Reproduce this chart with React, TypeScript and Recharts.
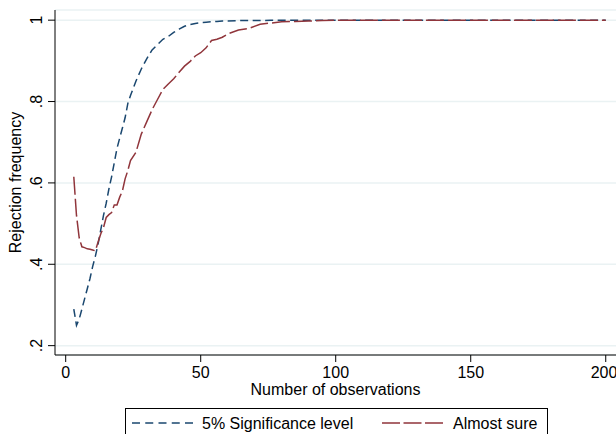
import React from 'react';
import { CartesianGrid, Line, LineChart, XAxis, YAxis } from 'recharts';

// number of observations
const nObs = [
    3, 4, 5, 6, 7, 8, 9, 10, 11, 12, 13, 14, 15, 16, 17, 18, 19, 20, 21, 22, 23, 24,
    26, 28, 30, 32, 34, 36, 38, 40, 42, 44, 46, 48, 50, 52, 54, 56, 58, 60,
    64, 68, 72, 76, 80, 85, 90, 95, 100,
    110, 120, 130, 140, 150, 160, 170, 180, 190, 200,
];

// 5% significance level
const sigLevel = [
    0.29, 0.25, 0.265, 0.29, 0.315, 0.34, 0.365, 0.395, 0.42, 0.45, 0.485, 0.52, 0.55, 0.585, 0.615, 0.65, 0.685, 0.71, 0.735, 0.76, 0.795, 0.815,
    0.85, 0.88, 0.905, 0.927, 0.94, 0.953, 0.96, 0.97, 0.978, 0.985, 0.989, 0.992, 0.994, 0.995, 0.996, 0.997, 0.998, 0.998,
    0.999, 0.999, 0.999, 1, 1, 1, 1, 1, 1,
    1, 1, 1, 1, 1, 1, 1, 1, 1, 1,
];

// almost sure
const almostSure = [
    0.615, 0.52, 0.465, 0.443, 0.441, 0.438, 0.437, 0.435, 0.433, 0.455, 0.475, 0.49, 0.515, 0.522, 0.527, 0.546, 0.546, 0.565, 0.58, 0.61, 0.63, 0.655,
    0.675, 0.72, 0.75, 0.78, 0.805, 0.83, 0.843, 0.856, 0.872, 0.887, 0.898, 0.912, 0.92, 0.932, 0.95, 0.953, 0.958, 0.966,
    0.976, 0.98, 0.99, 0.993, 0.996, 0.997, 0.998, 0.999, 1,
    1, 1, 1, 1, 1, 1, 1, 1, 1, 1,
];

const xTicks = [0, 50, 100, 150, 200];
const yTicks = [0.2, 0.4, 0.6, 0.8, 1];

const BLUE = '#1a476f';
const RED = '#90353b';
const FONT = '"Liberation Sans", Arial, Helvetica, sans-serif';
const FS = 16;

const data = nObs.map((n, i) => ({ n, sig: sigLevel[i], sure: almostSure[i] }));

const fmtY = (v: number) => (v === 1 ? '1' : String(v).replace(/^0/, ''));

const XTick = (props: any) => (
    <text x={props.x} y={377.5} textAnchor="middle" fontSize={FS} fontFamily={FONT} fill="#000">
        {props.payload.value}
    </text>
);

const YTick = (props: any) => (
    <text
        x={42.5}
        y={props.y}
        transform={`rotate(-90, 42.5, ${props.y})`}
        textAnchor="middle"
        fontSize={FS}
        fontFamily={FONT}
        fill="#000"
    >
        {fmtY(props.payload.value)}
    </text>
);

const App = () => {
    return (
        <div style={{ position: 'absolute', left: 0, top: 0, width: 616, height: 434, background: '#fff', overflow: 'hidden' }}>
            <LineChart width={616} height={434} data={data} margin={{ top: 10, right: 0, bottom: 0, left: 0 }}>
                <CartesianGrid vertical={false} stroke="#eaf2f3" strokeWidth={1.5} />
                <XAxis
                    dataKey="n"
                    type="number"
                    domain={[-3.96, 203.8]}
                    allowDataOverflow
                    ticks={xTicks}
                    tickSize={7}
                    height={79}
                    axisLine={{ stroke: '#000' }}
                    tickLine={{ stroke: '#000' }}
                    tick={<XTick />}
                    label={{ value: 'Number of observations', position: 'insideTop', offset: 28.5, fontSize: FS, fill: '#000', fontFamily: FONT }}
                />
                <YAxis
                    type="number"
                    domain={[0.177, 1.025]}
                    allowDataOverflow
                    ticks={yTicks}
                    tickSize={7}
                    width={55}
                    axisLine={{ stroke: '#000' }}
                    tickLine={{ stroke: '#000' }}
                    tick={<YTick />}
                    label={{
                        value: 'Rejection frequency',
                        angle: -90,
                        position: 'insideLeft',
                        offset: 15.3,
                        fontSize: FS,
                        fill: '#000',
                        fontFamily: FONT,
                        style: { textAnchor: 'middle' },
                    }}
                />
                <Line dataKey="sig" stroke={BLUE} strokeWidth={1.5} strokeDasharray="8 4.5" dot={false} isAnimationActive={false} />
                <Line dataKey="sure" stroke={RED} strokeWidth={1.5} strokeDasharray="18 4" dot={false} isAnimationActive={false} />
            </LineChart>
            <div
                style={{
                    position: 'absolute',
                    left: 125,
                    top: 408,
                    width: 423,
                    height: 40,
                    border: '1px solid #000',
                    boxSizing: 'border-box',
                }}
            />
            <svg width={616} height={434} style={{ position: 'absolute', left: 0, top: 0, pointerEvents: 'none' }}>
                <line x1={132} y1={423} x2={193} y2={423} stroke={BLUE} strokeWidth={1.5} strokeDasharray="8 5.25" />
                <text x={202} y={428.7} fontSize={FS} fontFamily={FONT} fill="#000">5% Significance level</text>
                <line x1={382} y1={423} x2={443} y2={423} stroke={RED} strokeWidth={1.5} strokeDasharray="18 3.5" />
                <text x={453} y={428.7} fontSize={FS} fontFamily={FONT} fill="#000">Almost sure</text>
            </svg>
        </div>
    );
};

export default App;
